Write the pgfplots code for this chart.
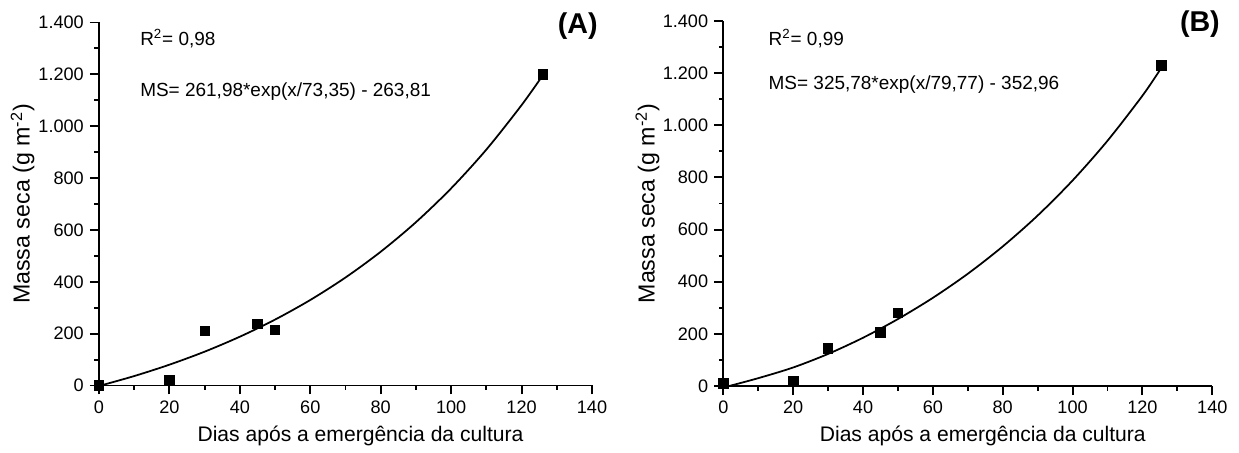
\documentclass[border=0pt]{standalone}
\usepackage{fontspec}
\setmainfont{Liberation Sans}
\usepackage{pgfplots}
\pgfplotsset{compat=1.18}

% common look of both panels
\pgfplotsset{
  msaxis/.style={
    scale only axis,
    xmin=0, xmax=140, ymin=0, ymax=1400,
    xtick={0,20,...,140}, ytick={0,200,...,1400},
    minor x tick num=1, minor y tick num=1,
    axis lines=left, axis line style={-, line width=1.1pt},
    every tick/.style={black, line width=1.1pt},
    tick align=outside, major tick length=1.8mm, minor tick length=0.9mm,
    clip=false,
    /pgf/number format/1000 sep={.},
    /pgf/number format/assume math mode=true,
    tick label style={font=\fontsize{10.3}{12}\selectfont},
    xlabel style={font=\fontsize{12}{14}\selectfont, xshift=3mm},
    ylabel style={font=\fontsize{13.2}{15}\selectfont,
      at={(axis description cs:-0.155,0.5)}, anchor=center},
    xlabel={Dias após a emergência da cultura},
    ylabel={Massa seca (g m\textsuperscript{-2})},
  },
  fit/.style={no marks, black, line width=1pt, smooth},
  obs/.style={only marks, mark=square*, mark size=2.7pt, black},
}
\tikzset{
  note/.style={anchor=base west, inner sep=0pt, font=\fontsize{10.8}{13}\selectfont},
  panel/.style={anchor=base east, inner sep=0pt, font=\fontsize{16.3}{18}\selectfont\bfseries},
}

\begin{document}
\begin{tikzpicture}
  \path[use as bounding box] (0,0) rectangle (247.8mm,90.6mm);

  \begin{axis}[msaxis, at={(19.8mm,13.5mm)}, anchor=south west,
      width=98.6mm, height=72.6mm]
    \addplot[fit] coordinates {(0,-1.8) (10,36.4) (20,80.3) (30,130.5)
      (40,188.2) (50,254.2) (60,329.8) (70,416.5) (80,515.9) (90,629.8)
      (100,760.3) (110,909.9) (120,1081.3) (126,1195.9)};
    \addplot[obs] coordinates {(0,0) (20,21) (30,211) (45,238) (50,214)
      (126,1200)};
    \node[note] at (axis description cs:0.083,0.938) {R\textsuperscript{2}= 0,98};
    \node[note] at (axis description cs:0.083,0.796) {MS= 261,98*exp(x/73,35) - 263,81};
    \node[panel] at (axis description cs:1.012,0.970) {(A)};
  \end{axis}

  \begin{axis}[msaxis, at={(144.66mm,13.4mm)}, anchor=south west,
      width=97.8mm, height=73mm]
    \addplot[fit] coordinates {(0,-6) (10,30) (20,71) (30,123) (40,185)
      (50,256.8) (60,338.2) (70,430.5) (80,535.2) (90,653.8) (100,788.3)
      (110,940.7) (120,1113.5) (125,1212)};
    \addplot[obs] coordinates {(0,10) (20,18) (30,145) (45,205) (50,281)
      (125.4,1230)};
    \node[note] at (axis description cs:0.092,0.932) {R\textsuperscript{2}= 0,99};
    \node[note] at (axis description cs:0.092,0.813) {MS= 325,78*exp(x/79,77) - 352,96};
    \node[panel] at (axis description cs:1.016,0.970) {(B)};
  \end{axis}
\end{tikzpicture}
\end{document}
